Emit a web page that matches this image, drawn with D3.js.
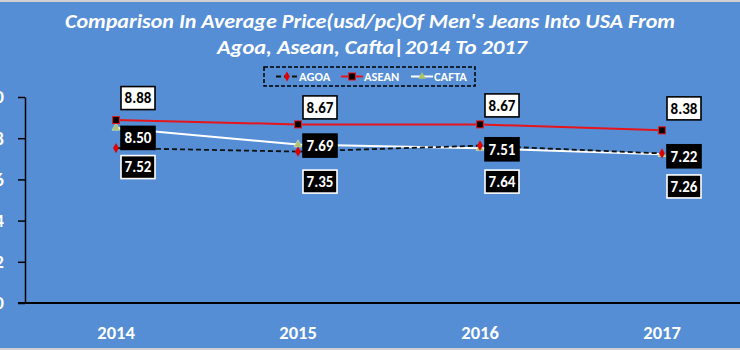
<!DOCTYPE html>
<html><head><meta charset="utf-8">
<script src="https://cdn.jsdelivr.net/npm/d3@7"></script>
<style>
html,body{margin:0;padding:0;background:#558ed5;overflow:hidden;}
svg{display:block;}
text{font-family:Carlito, Lato, "Open Sans", sans-serif;}
</style></head>
<body>
<svg id="c" width="740" height="350"></svg>
<script>
const years = ["2014", "2015", "2016", "2017"];
const agoa  = [7.52, 7.35, 7.64, 7.26];
const asean = [8.88, 8.67, 8.67, 8.38];
const cafta = [8.50, 7.69, 7.51, 7.22];
const yTicks = [0, 2, 4, 6, 8, 10];
const titleLines = ["Comparison In Average Price(usd/pc)Of Men's Jeans Into USA From", "Agoa, Asean, Cafta|2014 To 2017"];
const seriesNames = ["AGOA", "ASEAN", "CAFTA"];

// label layout offsets (vertical), per series per point
const labelDy = {
  AGOA:  [19, 30, 36, 33],
  ASEAN: [-22, -17, -19, -22],
  CAFTA: [10, 1, 1, 2]
};

const W = 740, H = 350;
const svg = d3.select("#c");
svg.append("rect").attr("width", W).attr("height", H).attr("fill", "#558ed5");
svg.append("rect").attr("width", W).attr("height", 2).attr("fill", "#d0d0d0");
svg.append("rect").attr("y", 348).attr("width", W).attr("height", 2).attr("fill", "#d0d0d0");

const x = d3.scaleBand().domain(years).range([25, 753]);
const cx = d => x(d) + x.bandwidth() / 2;
const y = d3.scaleLinear().domain([0, 10]).range([303, 97]);

// title
const t = svg.append("g");
t.append("text").attr("x", 370).attr("y", 28).attr("text-anchor", "middle")
  .attr("font-size", 20).attr("font-weight", "bold").attr("font-style", "italic")
  .attr("fill", "#fff").attr("textLength", 610).attr("lengthAdjust", "spacingAndGlyphs")
  .text(titleLines[0]);
t.append("text").attr("x", 372).attr("y", 54).attr("text-anchor", "middle")
  .attr("font-size", 20).attr("font-weight", "bold").attr("font-style", "italic")
  .attr("fill", "#fff").attr("textLength", 310).attr("lengthAdjust", "spacingAndGlyphs")
  .text(titleLines[1]);

// y axis
const yAxis = svg.append("g").attr("transform", "translate(25,0)")
  .call(d3.axisLeft(y).tickValues(yTicks).tickSize(7).tickSizeOuter(0).tickFormat(d3.format("d")));
yAxis.select(".domain").attr("stroke", "#000").attr("stroke-width", 1.5);
yAxis.selectAll(".tick line").attr("stroke", "#000").attr("stroke-width", 1.5);
yAxis.selectAll(".tick text").attr("fill", "#fff").attr("font-size", 18.5).attr("font-weight", "bold")
  .attr("x", -21).attr("font-family", "Carlito, Lato, 'Open Sans', sans-serif");

// x axis
const xAxis = svg.append("g").attr("transform", "translate(0,303)")
  .call(d3.axisBottom(x).tickSize(0).tickPadding(23));
xAxis.select(".domain").remove();
svg.append("line").attr("x1", 18).attr("x2", W).attr("y1", 303).attr("y2", 303)
  .attr("stroke", "#000").attr("stroke-width", 1.8);
xAxis.selectAll(".tick text").attr("fill", "#fff").attr("font-size", 18.5).attr("font-weight", "bold")
  .attr("font-family", "Carlito, Lato, 'Open Sans', sans-serif");

const line = d3.line().x((d, i) => cx(years[i])).y(d => y(d));

// CAFTA
svg.append("path").datum(cafta).attr("d", line).attr("fill", "none")
  .attr("stroke", "#fff").attr("stroke-width", 2);
// AGOA
svg.append("path").datum(agoa).attr("d", line).attr("fill", "none")
  .attr("stroke", "#111").attr("stroke-width", 1.8).attr("stroke-dasharray", "5,3");
// ASEAN
svg.append("path").datum(asean).attr("d", line).attr("fill", "none")
  .attr("stroke", "#e8141c").attr("stroke-width", 2);

const sym = (type, size) => d3.symbol().type(type).size(size)();
// markers
svg.selectAll(".mC").data(cafta).join("path")
  .attr("transform", (d, i) => `translate(${cx(years[i])},${y(d)})`)
  .attr("d", sym(d3.symbolTriangle, 28)).attr("fill", "#a9c46a").attr("stroke", "#dfe8c0").attr("stroke-width", 0.6);
svg.selectAll(".mA").data(agoa).join("path")
  .attr("transform", (d, i) => `translate(${cx(years[i])},${y(d)})`)
  .attr("d", sym(d3.symbolDiamond, 30)).attr("fill", "#e00000");
svg.selectAll(".mS").data(asean).join("rect")
  .attr("x", (d, i) => cx(years[i]) - 3.5).attr("y", d => y(d) - 3.5)
  .attr("width", 7).attr("height", 7).attr("fill", "#000").attr("stroke", "#e8141c").attr("stroke-width", 1);

// data labels
function labels(vals, name, fill, stroke, txt) {
  const g = svg.append("g");
  vals.forEach((v, i) => {
    const px = cx(years[i]) + 22, py = y(v) + labelDy[name][i];
    g.append("rect").attr("x", px - 17).attr("y", py - 11.5).attr("width", 34).attr("height", 23)
      .attr("fill", fill).attr("stroke", stroke).attr("stroke-width", 1.6);
    g.append("text").attr("x", px).attr("y", py).attr("dy", "0.36em").attr("text-anchor", "middle")
      .attr("font-size", 15).attr("font-weight", "bold").attr("fill", txt).text(v.toFixed(2));
  });
}
labels(asean, "ASEAN", "#fff", "#000", "#000");
labels(cafta, "CAFTA", "#000", "#000", "#fff");
labels(agoa, "AGOA", "#000", "#fff", "#fff");

// legend
const lg = svg.append("g");
lg.append("rect").attr("x", 264).attr("y", 67).attr("width", 211).attr("height", 19)
  .attr("fill", "none").attr("stroke", "#000").attr("stroke-width", 1.5).attr("stroke-dasharray", "4,2");
const legX = [276, 341, 411];
const legTxt = [299, 364, 434];
// AGOA
lg.append("line").attr("x1", legX[0]).attr("x2", legX[0] + 22).attr("y1", 76.5).attr("y2", 76.5)
  .attr("stroke", "#111").attr("stroke-width", 1.8).attr("stroke-dasharray", "5,3");
lg.append("path").attr("transform", `translate(${legX[0] + 11},76.5)`).attr("d", sym(d3.symbolDiamond, 28)).attr("fill", "#e00000");
// ASEAN
lg.append("line").attr("x1", legX[1]).attr("x2", legX[1] + 22).attr("y1", 76.5).attr("y2", 76.5)
  .attr("stroke", "#e8141c").attr("stroke-width", 2);
lg.append("rect").attr("x", legX[1] + 7.5).attr("y", 73).attr("width", 7).attr("height", 7)
  .attr("fill", "#000").attr("stroke", "#e8141c");
// CAFTA
lg.append("line").attr("x1", legX[2]).attr("x2", legX[2] + 22).attr("y1", 76.5).attr("y2", 76.5)
  .attr("stroke", "#fff").attr("stroke-width", 2);
lg.append("path").attr("transform", `translate(${legX[2] + 11},76.5)`).attr("d", sym(d3.symbolTriangle, 26)).attr("fill", "#a9c46a");
seriesNames.forEach((n, i) => {
  lg.append("text").attr("x", legTxt[i]).attr("y", 76.5).attr("dy", "0.35em")
    .attr("font-size", 12.5).attr("font-weight", "bold").attr("fill", "#fff").text(n);
});
</script>
</body></html>
